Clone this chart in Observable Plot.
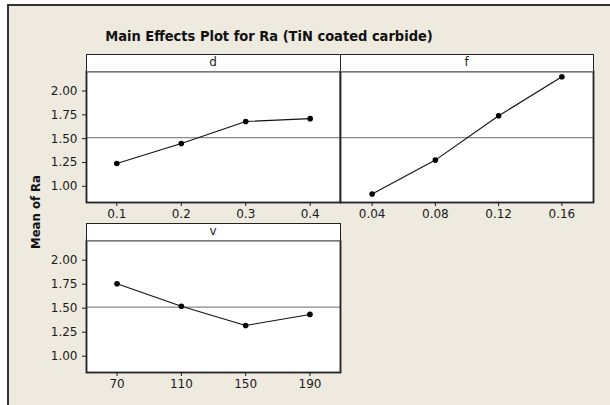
<!DOCTYPE html>
<html>
<head>
<meta charset="utf-8">
<script src="https://cdn.jsdelivr.net/npm/d3@7"></script>
<script src="https://cdn.jsdelivr.net/npm/@observablehq/plot@0.6"></script>
<style>
  html, body { margin: 0; padding: 0; background: #ffffff; }
  #wrap { position: relative; width: 610px; height: 405px; overflow: hidden; font-family: "DejaVu Sans", Verdana, sans-serif; }
  #bg { position: absolute; left: 7px; top: 4px; width: 610px; height: 410px; background: #EEEAE0; border-top: 2px solid #333; border-left: 2px solid #333; }
  .strip { position: absolute; background: #fff; border: 1.5px solid #222; border-bottom: 1.5px solid #777; box-sizing: border-box; text-align: center; font-size: 12px; line-height: 15px; color: #222; }
  #title { position: absolute; left: 69px; width: 400px; top: 27px; text-align: center; font-family: "DejaVu Sans Condensed", "DejaVu Sans", sans-serif; font-stretch: condensed; font-weight: bold; font-size: 14.5px; line-height: 18px; color: #111; }
  #ylab { position: absolute; left: 35px; top: 212px; transform: translate(-50%, -50%) rotate(-90deg); font-family: "DejaVu Sans Condensed", "DejaVu Sans", sans-serif; font-stretch: condensed; font-weight: bold; font-size: 13px; color: #111; white-space: nowrap; }
  svg { overflow: visible; }
</style>
</head>
<body>
<div id="wrap">
  <div id="bg"></div>
  <div id="title">Main Effects Plot for Ra (TiN coated carbide)</div>
  <div id="ylab">Mean of Ra</div>
</div>
<script>
const factorNames = ["d", "f", "v"];
const dLevels = [0.1, 0.2, 0.3, 0.4];
const dMeans = [1.24, 1.45, 1.68, 1.71];
const fLevels = [0.04, 0.08, 0.12, 0.16];
const fMeans = [0.92, 1.275, 1.74, 2.15];
const vLevels = [70, 110, 150, 190];
const vMeans = [1.755, 1.52, 1.32, 1.435];
const grandMean = 1.51;
const yTicks = [1.00, 1.25, 1.50, 1.75, 2.00];
const yDomain = [0.83, 2.205];

const panels = [
  {name: factorNames[0], levels: dLevels, means: dMeans, xDomain: [0.053, 0.447], left: 86, top: 71, w: 254, h: 131, yAxis: true},
  {name: factorNames[1], levels: fLevels, means: fMeans, xDomain: [0.02, 0.18], left: 340, top: 71, w: 253, h: 131, yAxis: false},
  {name: factorNames[2], levels: vLevels, means: vMeans, xDomain: [51, 209], left: 86, top: 240, w: 254, h: 132, yAxis: true}
];

const wrap = document.getElementById("wrap");
const ML = 60, MB = 30, MT = 1, MR = 1;

for (const p of panels) {
  const data = p.levels.map((x, i) => ({x, y: p.means[i]}));
  const chart = Plot.plot({
    width: p.w + ML + MR,
    height: p.h + MT + MB,
    marginLeft: ML, marginRight: MR, marginTop: MT, marginBottom: MB,
    style: {background: "transparent", fontFamily: "'DejaVu Sans', Verdana, sans-serif", fontSize: "12px", color: "#1a1a1a", overflow: "visible"},
    x: {domain: p.xDomain, ticks: p.levels, tickFormat: d => String(d), tickSize: 4, tickPadding: 3, label: null},
    y: {domain: yDomain, ticks: yTicks, tickFormat: ".2f", tickSize: 4, tickPadding: 5, label: null, axis: p.yAxis ? "left" : null},
    marks: [
      Plot.frame({fill: "white"}),
      Plot.ruleY([grandMean], {stroke: "#888", strokeWidth: 1.2}),
      Plot.line(data, {x: "x", y: "y", stroke: "#111", strokeWidth: 1.1}),
      Plot.dot(data, {x: "x", y: "y", r: 2.8, fill: "#000", stroke: "none"}),
      Plot.frame({stroke: "#222", strokeWidth: 1.8})
    ]
  });
  chart.style.position = "absolute";
  chart.style.left = (p.left - ML) + "px";
  chart.style.top = (p.top - MT) + "px";
  wrap.appendChild(chart);

  const strip = document.createElement("div");
  strip.className = "strip";
  strip.style.left = (p.left - 0.5) + "px";
  strip.style.top = (p.top - 17) + "px";
  strip.style.width = (p.w + 1) + "px";
  strip.style.height = "18px";
  strip.textContent = p.name;
  wrap.appendChild(strip);
}
</script>
</body>
</html>
